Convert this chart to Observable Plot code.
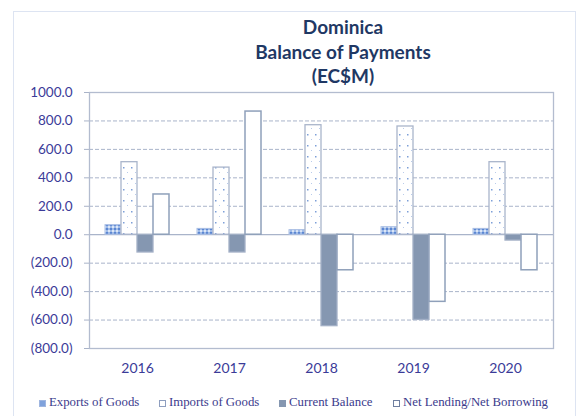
<!DOCTYPE html>
<html>
<head>
<meta charset="utf-8">
<script src="https://cdn.jsdelivr.net/npm/d3@7"></script>
<script src="https://cdn.jsdelivr.net/npm/@observablehq/plot@0.6"></script>
<style>
  body { margin: 0; background: #fff; }
  #wrap { position: relative; width: 578px; height: 416px; overflow: hidden; font-family: Lato, "Open Sans", sans-serif; }
  #box { position: absolute; left: 13px; top: 11px; width: 563px; height: 420px; border: 1px solid #dde4f2; box-sizing: border-box; }
  #title { position: absolute; left: 223px; width: 240px; top: 15px; text-align: center; color: #1f3864; font-weight: bold; font-size: 19px; line-height: 24.5px; }
  .layer { position: absolute; left: 0; top: 0; }
  .layer text { fill: #3b3b98; }
  #legend { position: absolute; top: 395px; left: 0; width: 578px; height: 18px; font-family: "Liberation Serif", "Times New Roman", serif; font-size: 12.8px; color: #3b3b8c; }
  #legend .item { position: absolute; top: 0; white-space: nowrap; }
  #legend .sw { position: absolute; top: 5px; width: 7px; height: 7px; box-sizing: border-box; }
  #legend .lbl { position: absolute; top: 0; }
</style>
</head>
<body>
<div id="wrap">
  <div id="box"></div>
  <div id="title">Dominica<br>Balance of Payments<br>(EC$M)</div>
  <div id="bg" class="layer"></div>
  <div id="fg" class="layer"></div>
  <div id="legend"></div>
</div>
<script>
// ---- data ----
const years = ["2016", "2017", "2018", "2019", "2020"];
const seriesNames = ["Exports of Goods", "Imports of Goods", "Current Balance", "Net Lending/Net Borrowing"];
const exportsOfGoods = [67, 41, 32, 53, 41];
const importsOfGoods = [510, 472, 770, 761, 510];
const currentBalance = [-125, -125, -643, -599, -41];
const netLending = [283, 866, -250, -472, -250];
const yTicks = [1000, 800, 600, 400, 200, 0, -200, -400, -600, -800];

const seriesValues = [exportsOfGoods, importsOfGoods, currentBalance, netLending];
const rows = [];
years.forEach((yr, i) => seriesNames.forEach((s, j) => rows.push({year: yr, series: s, value: seriesValues[j][i]})));

const fmt = v => v < 0 ? `(${Math.abs(v).toFixed(1)})` : v.toFixed(1);

const W = 578, H = 416;
const margins = {marginLeft: 89, marginRight: 25, marginTop: 92, marginBottom: 68};
const yDomain = [-800, 1000];

// ---- background: axis, grid, frame ----
const bg = Plot.plot({
  width: W, height: H, ...margins,
  style: {fontFamily: "Lato, 'Open Sans', sans-serif", fontSize: "13.5px", color: "#a9b3c8", background: "transparent"},
  y: {domain: yDomain, ticks: yTicks, tickFormat: fmt, tickSize: 5, tickPadding: 12, label: null},
  marks: [
    Plot.ruleY(yTicks.filter(v => v !== 0 && v !== 1000 && v !== -800), {stroke: "#a9b4ca", strokeDasharray: "4,2", strokeWidth: 1}),
    Plot.ruleY([1000], {stroke: "#c4cbdb", strokeWidth: 1}),
    Plot.ruleY([-800], {stroke: "#b7c0d2", strokeWidth: 1.2}),
    Plot.ruleY([0], {stroke: "#a9b4ca", strokeWidth: 1.3}),
    Plot.frame({stroke: "#b3bccf", strokeWidth: 1.3})
  ]
});
document.getElementById("bg").appendChild(bg);

// ---- foreground: bars by year facet ----
const fg = Plot.plot({
  width: W, height: H, ...margins,
  style: {fontFamily: "Lato, 'Open Sans', sans-serif", fontSize: "14px", color: "#3b3b98", background: "transparent"},
  facet: {data: rows, x: "year"},
  fx: {domain: years, padding: 0, axis: "bottom", tickSize: 0, tickPadding: 15, label: null},
  x: {domain: seriesNames, paddingInner: 0, paddingOuter: 0.72, axis: null},
  y: {domain: yDomain, axis: null},
  marks: [
    Plot.barY(rows, {filter: d => d.series === seriesNames[0], x: "series", y: "value", fill: "url(#patExports)", stroke: "#a8bde3", strokeWidth: 1}),
    Plot.barY(rows, {filter: d => d.series === seriesNames[1], x: "series", y: "value", fill: "url(#patImports)", stroke: "#aab5cb", strokeWidth: 1.3}),
    Plot.barY(rows, {filter: d => d.series === seriesNames[2], x: "series", y: "value", fill: "#8597b1", stroke: "#a3b0c6", strokeWidth: 1.3}),
    Plot.barY(rows, {filter: d => d.series === seriesNames[3], x: "series", y: "value", fill: "#ffffff", stroke: "#8fa0ba", strokeWidth: 1.5})
  ]
});
document.getElementById("fg").appendChild(fg);

// patterns
const defs = d3.select(fg).insert("defs", ":first-child");
const pe = defs.append("pattern").attr("id", "patExports").attr("patternUnits", "userSpaceOnUse").attr("width", 4).attr("height", 4);
pe.append("rect").attr("width", 4).attr("height", 4).attr("fill", "#9fbbe8");
pe.append("rect").attr("x", 0).attr("y", 0).attr("width", 2).attr("height", 2).attr("fill", "#5b86d2");
pe.append("rect").attr("x", 2).attr("y", 2).attr("width", 2).attr("height", 2).attr("fill", "#dbe6f7");
const pi = defs.append("pattern").attr("id", "patImports").attr("patternUnits", "userSpaceOnUse").attr("width", 8).attr("height", 11);
pi.append("rect").attr("width", 8).attr("height", 11).attr("fill", "#ffffff");
pi.append("rect").attr("x", 1).attr("y", 2).attr("width", 1.5).attr("height", 1.5).attr("fill", "#7d9fd8");
pi.append("rect").attr("x", 5).attr("y", 7).attr("width", 1).attr("height", 1).attr("fill", "#b9cbea");

// ---- legend ----
const legendSwatches = [
  {bg: "#7fa2dc", border: "#9fb6e0"},
  {bg: "#ffffff", border: "#8e9ebf"},
  {bg: "#8597b1", border: "#8597b1"},
  {bg: "#ffffff", border: "#6f7fa0"}
];
const legendX = [39, 159, 279, 393];
const legend = d3.select("#legend");
seriesNames.forEach((s, i) => {
  const it = legend.append("span").attr("class", "item").style("left", legendX[i] + "px");
  it.append("span").attr("class", "sw").style("left", "0px").style("background", legendSwatches[i].bg).style("border", `1px solid ${legendSwatches[i].border}`);
  it.append("span").attr("class", "lbl").style("left", "10px").text(s);
});
</script>
</body>
</html>
